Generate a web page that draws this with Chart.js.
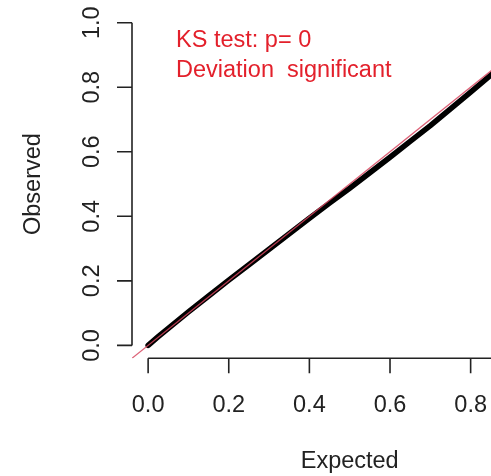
<!DOCTYPE html>
<html>
<head>
<meta charset="utf-8">
<title>QQ plot residuals</title>
<script src="https://cdn.jsdelivr.net/npm/chart.js@4.4.1/dist/chart.umd.min.js"></script>
<style>
  html, body { margin: 0; padding: 0; background: #fff; }
  #wrap { width: 491px; height: 476px; }
</style>
</head>
<body>
<div id="wrap"><canvas id="qqChart" width="491" height="476"></canvas></div>
<script>
// expected vs observed quantiles of the scaled residuals
var expected = [0, 0.025, 0.05, 0.1, 0.15, 0.2, 0.25, 0.3, 0.35, 0.4, 0.45, 0.5, 0.55, 0.6, 0.65, 0.7, 0.75, 0.8, 0.85, 0.9, 0.95, 1.0];
var observed = [0, 0.027, 0.053, 0.104, 0.153, 0.202, 0.250, 0.298, 0.346, 0.394, 0.441, 0.487, 0.535, 0.583, 0.632, 0.681, 0.733, 0.785, 0.838, 0.891, 0.945, 1.0];

// 1:1 reference line
var refX = [-0.04, 1.04];
var refY = [-0.04, 1.04];

var xTicks = [0, 0.2, 0.4, 0.6, 0.8, 1.0];
var yTicks = [0, 0.2, 0.4, 0.6, 0.8, 1.0];

var legendLines = ['KS test: p= 0', 'Deviation  significant'];

var FONT = '"Liberation Sans", Arial, sans-serif';
var FONT_SIZE = 23.5;
var AXIS_COL = '#222';

function pts(xs, ys) {
  return xs.map(function (x, i) { return { x: x, y: ys[i] }; });
}

// R-style axes: lines only between first and last tick, rotated y labels
var baseAxes = {
  id: 'baseAxes',
  afterDraw: function (chart) {
    var ctx = chart.ctx;
    var xs = chart.scales.x, ys = chart.scales.y;
    var area = chart.chartArea;
    var tick = 15;
    ctx.save();
    ctx.strokeStyle = AXIS_COL;
    ctx.fillStyle = AXIS_COL;
    ctx.lineWidth = 1.6;
    ctx.font = FONT_SIZE + 'px ' + FONT;

    // x axis
    var xAxisY = area.bottom;
    var shownX = xTicks.filter(function (v) { return v <= xs.max; });
    ctx.beginPath();
    ctx.moveTo(xs.getPixelForValue(shownX[0]), xAxisY);
    ctx.lineTo(xs.getPixelForValue(xTicks[xTicks.length - 1]), xAxisY);
    xTicks.forEach(function (v) {
      var px = xs.getPixelForValue(v);
      ctx.moveTo(px, xAxisY);
      ctx.lineTo(px, xAxisY + tick);
    });
    ctx.stroke();
    ctx.textAlign = 'center';
    ctx.textBaseline = 'alphabetic';
    xTicks.forEach(function (v) {
      ctx.fillText(v.toFixed(1), xs.getPixelForValue(v), 412);
    });

    // y axis
    var yAxisX = area.left;
    ctx.beginPath();
    ctx.moveTo(yAxisX, ys.getPixelForValue(yTicks[0]));
    ctx.lineTo(yAxisX, ys.getPixelForValue(yTicks[yTicks.length - 1]));
    yTicks.forEach(function (v) {
      var py = ys.getPixelForValue(v);
      ctx.moveTo(yAxisX, py);
      ctx.lineTo(yAxisX - tick, py);
    });
    ctx.stroke();
    yTicks.forEach(function (v) {
      ctx.save();
      ctx.translate(99, ys.getPixelForValue(v));
      ctx.rotate(-Math.PI / 2);
      ctx.fillText(v.toFixed(1), 0, 0);
      ctx.restore();
    });

    // axis titles
    ctx.fillText('Expected', xs.getPixelForValue(0.5), 468);
    ctx.save();
    ctx.translate(40, ys.getPixelForValue(0.5));
    ctx.rotate(-Math.PI / 2);
    ctx.fillText('Observed', 0, 0);
    ctx.restore();

    // test result text
    ctx.fillStyle = '#e3202b';
    ctx.textAlign = 'left';
    legendLines.forEach(function (s, i) {
      ctx.fillText(s, 176, 47 + i * 29.5);
    });
    ctx.restore();
  }
};

var qqCtx = document.getElementById('qqChart').getContext('2d');
var qqChart = new Chart(qqCtx, {
  type: 'scatter',
  data: {
    datasets: [{
      label: 'y = x',
      data: pts(refX, refY),
      showLine: true,
      borderColor: 'rgba(214, 70, 95, 0.85)',
      borderWidth: 1.3,
      pointRadius: 0,
      order: 0
    }, {
      label: 'residuals',
      data: pts(expected, observed),
      showLine: true,
      borderColor: '#000',
      borderWidth: 5.5,
      borderCapStyle: 'round',
      borderJoinStyle: 'round',
      pointRadius: 0,
      order: 1
    }]
  },
  options: {
    responsive: false,
    animation: false,
    events: [],
    layout: { padding: { left: 132, top: 9.8, right: 0, bottom: 117.7 } },
    plugins: { legend: { display: false }, tooltip: { enabled: false } },
    scales: {
      x: { type: 'linear', min: -0.04, max: 0.8505, display: false },
      y: { type: 'linear', min: -0.04, max: 1.04, display: false }
    }
  },
  plugins: [baseAxes]
});
</script>
</body>
</html>
